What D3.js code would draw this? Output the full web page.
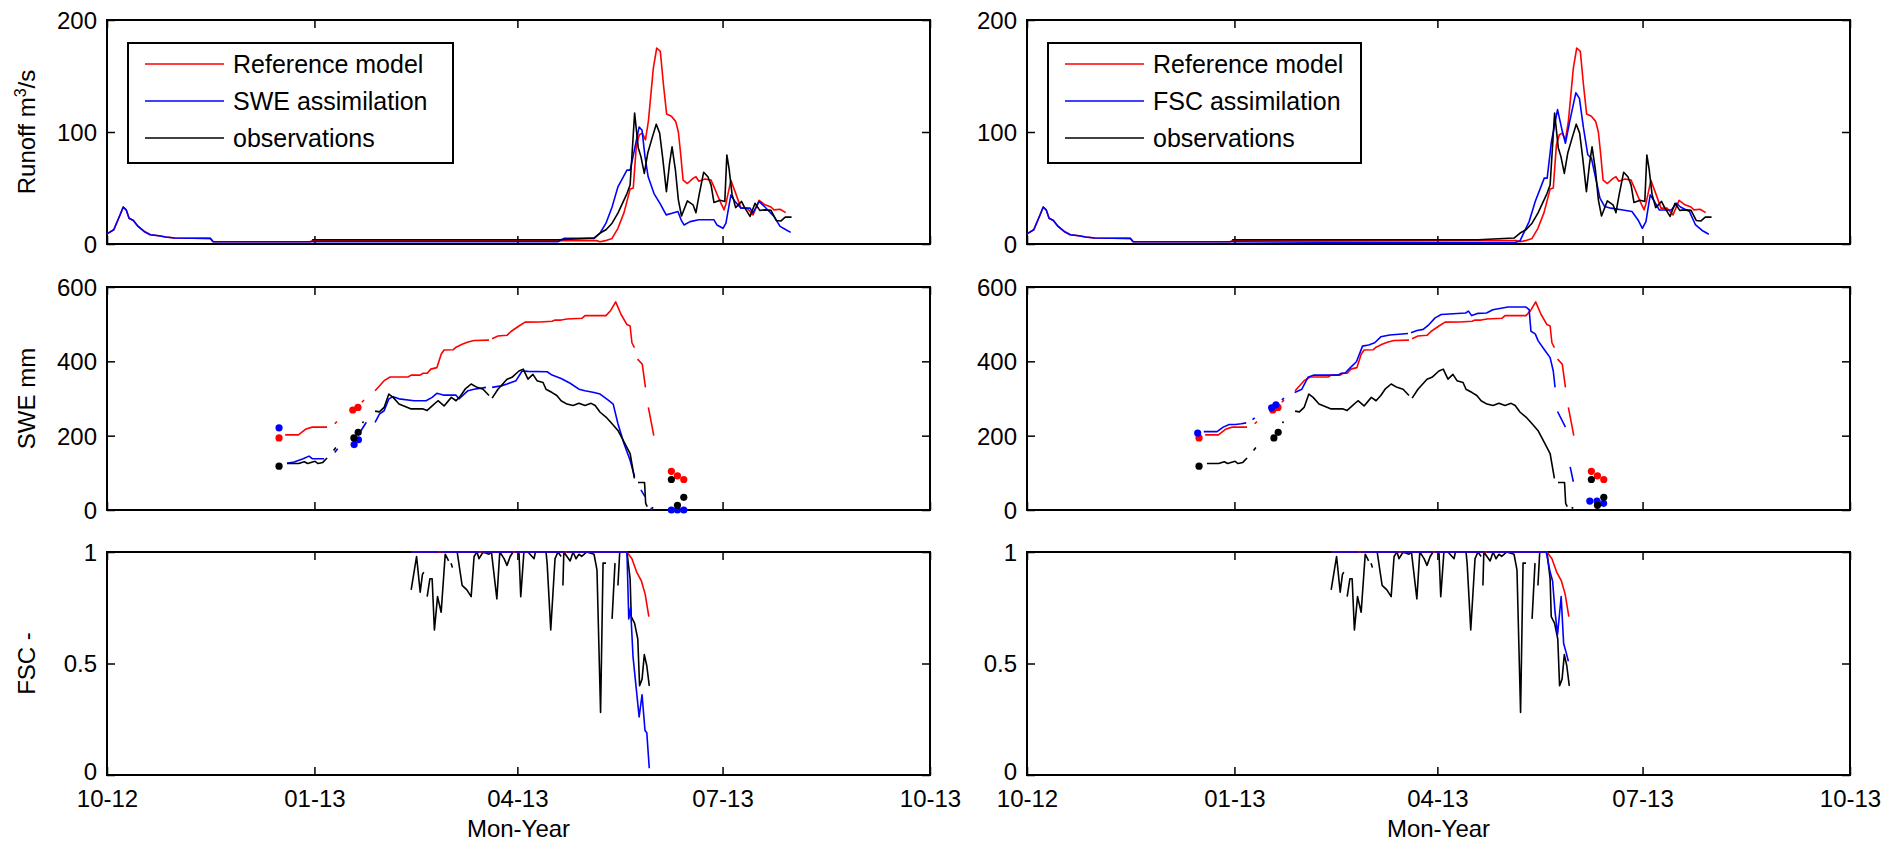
<!DOCTYPE html>
<html>
<head>
<meta charset="utf-8">
<script src="https://cdn.jsdelivr.net/npm/d3@7"></script>
<style>
  body { margin: 0; background: #fff; }
  svg { display: block; font-family: "Liberation Sans", Arial, sans-serif; }
</style>
</head>
<body>
<div id="chart-area"></div>
<script>
// x values are days since 2012-10-01, null = gap in the record
var monthTicks = ["2012-10-01", "2013-01-01", "2013-04-01", "2013-07-01", "2013-10-01"];
var runoffTicks = [0, 100, 200];
var sweTicks = [0, 200, 400, 600];
var fscTicks = [0, 0.5, 1];

var legendLeft = ["Reference model", "SWE assimilation", "observations"];
var legendRight = ["Reference model", "FSC assimilation", "observations"];

// ---- runoff (m3/s)
var runoffEarly = [[0, 9], [3, 12.7], [6, 27], [7.2, 33], [8.5, 30.5], [9.8, 23], [11.7, 21], [13.8, 15.7],
  [16.5, 11.2], [19.2, 8.3], [23, 7.4], [26, 6.2], [30, 5.3], [45.8, 5], [47.1, 2]];

var runoffRef = [[90, 2], [91, 3], [200, 3], [217, 3], [218.7, 2], [221, 3], [224, 5], [226.6, 14], [229.3, 28],
  [232, 49], [233.4, 50], [234.8, 88.7], [236.1, 97.6], [237.4, 99], [238.8, 93], [240.1, 109.5], [242.3, 157],
  [243.8, 175], [245.4, 172], [246.8, 142], [248.2, 116], [250.3, 114], [252.2, 109.5], [253.4, 100], [254.3, 82.7],
  [255.5, 57], [257.4, 54], [259.9, 58.6], [261.2, 60], [262.5, 56], [265.2, 58], [267.9, 57], [269.2, 51],
  [271.9, 38], [273.7, 30.5], [274.5, 36], [276.7, 57], [278.5, 47], [281.2, 32], [283.9, 32], [286.5, 26],
  [289.2, 39], [291.8, 35], [294.5, 33], [295.8, 30.5], [298.5, 31], [301, 28]];

var runoffSWE = [[90, 2], [200, 2], [202.7, 5], [216, 5], [218.7, 9.8], [221.3, 18.6], [224, 33], [226.6, 51],
  [230.6, 66], [232, 66], [233.3, 78], [236, 104.5], [237.3, 101.5], [238.6, 78], [240, 60], [242.6, 45],
  [245.3, 36], [248, 26], [250.6, 27.5], [253.2, 29], [254.6, 21.6], [255.9, 17], [258.6, 20], [262.5, 21.6],
  [269.2, 21.6], [270.5, 17], [273.2, 14], [274.5, 18.6], [276.7, 43.8], [278.5, 38], [281.2, 32], [285.2, 32],
  [286.5, 27.5], [289.2, 38], [291.8, 33], [295.8, 24.6], [298.5, 15.7], [301.1, 12.7], [303.2, 10.4]];

var runoffFSC = [[90, 2], [198.5, 1], [216, 1], [218.7, 3], [222.7, 20], [225.4, 38], [229.4, 58.8], [230.7, 58.8],
  [232.6, 91.6], [235.3, 120], [237.4, 100.6], [238.8, 90], [240.7, 109.5], [243.4, 135], [245, 130], [246.8, 103.6],
  [248.7, 79.7], [250.3, 76.7], [252.2, 58.8], [254.1, 41], [256.2, 33.4], [258.9, 32], [264.3, 30.4], [268.3, 29],
  [271, 21.5], [272.9, 14], [274.5, 20], [276.4, 43.9], [278.3, 37.9], [280.4, 30.4], [285.8, 30.4], [288, 36.4],
  [289.8, 33], [293.8, 29], [296.5, 17], [299.8, 11.6], [302.4, 8.7]];

var runoffObs = [[91, 3.8], [200, 3.8], [216, 5.3], [218.7, 9.8], [221.3, 12.7], [224, 18.6], [226.6, 27.5],
  [230.6, 45], [232, 52.7], [234, 117], [235.6, 86], [236.8, 78], [238.3, 63], [239.8, 81], [241.8, 95],
  [243.6, 107], [245.1, 99], [246.5, 76], [248.1, 46.8], [249.5, 72], [250.6, 86.7], [252.1, 66], [253.4, 39.4],
  [254.8, 25], [257.4, 38.5], [259.9, 35], [261.2, 28], [262.6, 43.8], [264.6, 64], [266.5, 60], [267.9, 52.7],
  [269.2, 37], [271.9, 39], [274, 38], [274.9, 79.5], [275.9, 67], [277.2, 44.5], [278.8, 32.5], [281.4, 38],
  [282.8, 32.5], [285.2, 24.6], [287.4, 36.4], [289.5, 30], [292, 30.5], [294.5, 30], [296.8, 21], [298.8, 20.5],
  [300.8, 24], [303.6, 24]];

// ---- snow water equivalent (mm)
var sweRef = [[79, 202], [84.9, 202], [88.3, 218], [91, 223], [97.6, 223], null, [101, 232], [102, 238], null,
  [113, 290], [114, 296], null, [118.9, 321], [122.9, 348], [125.6, 358], [133.5, 358], [134.9, 363], [138.9, 363],
  [140.2, 368], [142, 368], [143.6, 379], [146.3, 383], [148.2, 419], [149.5, 430.6], [153.5, 431], [154.8, 438],
  [157.5, 446], [160.1, 452], [162.8, 456], [169.4, 457], null, [170.8, 461], [173.4, 468], [177.4, 470],
  [179.3, 481], [182.7, 495], [185.4, 505.5], [192, 506], [197.4, 508], [198.7, 511], [201.4, 511], [204, 514],
  [210.7, 516], [212, 523], [221.3, 523], [223.4, 537], [225.6, 560], [228, 526], [230.6, 499], [232, 495],
  [232.8, 450], [233.9, 437], null, [235.3, 406], [237.4, 392], [238.8, 330], null, [240.1, 276], [242.5, 200]];
var sweRefDots = [[76.3, 194], [109, 269], [111.3, 276], [250.3, 104], [253, 92], [255.8, 82]];

var sweSWE = [[79.8, 126], [83, 129], [87, 138], [89.6, 145], [91, 138], [96.3, 138], null, [101, 155],
  [102.3, 165], null, [112.5, 212], [115, 236], null, [118.9, 236], [120.8, 258], [122.9, 267], [125, 299],
  [126.9, 305], [129.5, 299], [136.2, 294], [141.5, 294], [144.2, 303], [146.3, 314], [149.5, 309], [154.8, 309],
  [156.1, 299], [160.1, 321], [162.8, 325], [168.1, 330], null, [170.8, 330], [174.8, 334], [177.4, 339],
  [181.4, 348], [184.1, 374], [186.7, 373], [195.2, 372], [197.4, 363], [201.4, 354], [205.4, 341], [209.3, 325],
  [212, 321], [216, 316], [218.7, 312], [222.6, 294], [224.5, 285], [226.6, 232], [229.3, 178], [232, 134],
  [234, 89], null, [236.8, 54], [238.6, 36], null, [241, 4], [242, 0]];
var sweSWEDots = [[76.3, 221], [109.6, 176], [111.5, 189], [250.3, 0], [253, 0], [255.8, 0]];

var sweFSC = [[78.4, 211], [84.3, 211], [87, 223], [89.7, 230], [92.4, 230], [95, 232], [97.2, 234.5], null,
  [100, 243], [101, 248], null, [113, 296], [114, 301], null, [118.7, 316], [121.9, 325], [124.6, 357],
  [127.3, 363], [138, 363], [139.4, 368], [141, 368], [143.4, 383], [146.1, 399], [148.8, 441], [151.5, 444],
  [154.2, 450], [156.9, 466], [160.9, 471], [169, 475], null, [170.3, 477], [173, 483], [175.7, 486], [178.3, 499],
  [181, 517], [183.7, 526], [194.5, 530], [195.8, 535], [197.2, 523], [199.8, 529], [203.8, 530], [206.6, 539],
  [213.3, 546], [221.3, 546], [222.7, 539], [223.5, 481], [225.4, 474], [226.7, 455], [229.4, 432], [232, 410],
  [233.4, 374], [234.2, 330], null, [235.3, 265], [238.8, 223], null, [240.9, 116], [242.3, 76]];
var sweFSCDots = [[75.7, 207], [108.5, 275], [110.4, 283], [249.6, 24], [252.8, 24], [255.7, 18]];

var sweObs = [[79.8, 125], [85, 125], [87.5, 130], [89, 125], [92.3, 131], [93.6, 125], [95.7, 128], [97.6, 140],
  null, [100.5, 160], [101.5, 168], null, [113.3, 234], [113.8, 238], null, [118.9, 266], [120.8, 264],
  [122.9, 276], [125, 312], [126.9, 303], [129.5, 285], [134.9, 272], [140.2, 272], [142, 268], [144.2, 280],
  [146.8, 294], [149.5, 280], [152.7, 303], [154.8, 294], [156.9, 308], [158.8, 325], [161.5, 339], [164.1, 330],
  [166.8, 325], [169.4, 308], null, [170.8, 301], [173.4, 325], [177.4, 352], [179.6, 357], [182.7, 374],
  [184.6, 379], [186.7, 352], [188.9, 365], [190.7, 348], [193.4, 343], [194.7, 325], [197.4, 316], [199.5, 308],
  [201.4, 294], [204, 285], [206.7, 281], [209.3, 287], [212, 281], [214.7, 287], [216.5, 281], [218.7, 263],
  [221.3, 250], [224, 232], [226.6, 214], [229.3, 183], [232, 152], [233.9, 85], null, [235.5, 74], [238.4, 74],
  [238.9, 18], [239.6, 9], null, [241.5, 7], [242.3, 5]];
var sweObsDots = [[76.3, 118], [109.5, 194], [111.4, 209], [250.3, 82], [253, 12.5], [255.8, 34]];

// ---- fractional snow cover (-)
var fscRef = [[135, 1], [230.6, 1], [232.8, 0.97], [234.9, 0.91], [237, 0.87], [238.7, 0.81], [240.3, 0.71]];

var fscSWE = [[135, 1], [147, 1], null, [148, 1], [165, 1], null, [166, 1], [180, 1], null, [181, 1], [203, 1],
  null, [204, 1], [230.6, 1], [231.4, 0.70], [232.2, 0.75], [233.3, 0.53], [234.6, 0.40], [236, 0.26],
  [237.3, 0.36], [238.6, 0.20], [239.4, 0.19], [240.5, 0.03]];

var fscFSC = [[135, 1], [147, 1], null, [148, 1], [165, 1], null, [166, 1], [180, 1], null, [181, 1], [203, 1],
  null, [204, 1], [230.3, 1], [232, 0.91], [233.1, 0.87], [234.2, 0.73], [235.3, 0.63], [236.9, 0.80], [238, 0.59],
  [239.1, 0.55], [240.1, 0.51]];

var fscObs = [[134.9, 0.83], [137.3, 0.98], [138.9, 0.82], [139.9, 0.90], [140.5, 0.91], null, [142, 0.80],
  [143.2, 0.88], [144.2, 0.88], [145.2, 0.65], [146.6, 0.80], [148.2, 0.73], [150, 0.99], [151.5, 0.96], null,
  [152.6, 0.95], [153.2, 0.93], null, [155.3, 1], [157.5, 0.85], [159.6, 0.83], [161.5, 0.80], [162.8, 0.98],
  [164.1, 1], [165, 0.97], [166.8, 1], [169.4, 0.99], [170.5, 1], [172.9, 0.79], [174.2, 1], [176.1, 0.97],
  [177.4, 0.94], [178.8, 0.98], [180.1, 1], [182.7, 1], [183.5, 0.80], [184.9, 1], [186.7, 1], [189.4, 0.97],
  [190, 1], [194.7, 1], [195.2, 0.95], [196.8, 0.65], [198.7, 0.97], [200, 1], [201.4, 0.98], null, [202.2, 0.85],
  [202.6, 1], [204, 0.98], [205.4, 0.96], [206.7, 1], [208, 0.97], [209.3, 0.99], [210.5, 0.98], [212.8, 1],
  [216, 0.99], [217.3, 0.92], [218.9, 0.28], [220, 0.95], [221.3, 0.95], null, [224, 0.70], [225.3, 0.95], null,
  [226.6, 0.85], [227.4, 1], [230.6, 1], [232, 0.88], [232.5, 0.71], [234, 0.68], [235.4, 0.61], [236.2, 0.40],
  [237.3, 0.43], [238.3, 0.54], [239.4, 0.49], [240.5, 0.40]];

// ---------------------------------------------------------------
var W = 1888, H = 843;
var panelW = 823;
var panelX = [107, 1027];
var rows = [{ y: 20, h: 224 }, { y: 287, h: 223 }, { y: 552, h: 223 }];
var tickLen = 8;

var start = Date.UTC(2012, 9, 1);
function dayDate(d) { return new Date(start + d * 864e5); }
var parseDay = d3.utcParse("%Y-%m-%d");

var x = d3.scaleUtc().domain([parseDay("2012-10-01"), parseDay("2013-10-01")]).range([0, panelW]);

var svg = d3.select("#chart-area").append("svg").attr("width", W).attr("height", H);

var red = "#ff0000", blue = "#0000ff", black = "#000000";

var panels = [
  { col: 0, row: 0, max: 200, ticks: runoffTicks, series: [[runoffEarly.concat(runoffRef), red], [runoffEarly.concat(runoffSWE), blue], [runoffObs, black]], legend: legendLeft },
  { col: 1, row: 0, max: 200, ticks: runoffTicks, series: [[runoffEarly.concat(runoffRef), red], [runoffEarly.concat(runoffFSC), blue], [runoffObs, black]], legend: legendRight },
  { col: 0, row: 1, max: 600, ticks: sweTicks, series: [[sweRef, red], [sweSWE, blue], [sweObs, black]], dots: [[sweRefDots, red], [sweSWEDots, blue], [sweObsDots, black]] },
  { col: 1, row: 1, max: 600, ticks: sweTicks, series: [[sweRef, red], [sweFSC, blue], [sweObs, black]], dots: [[sweRefDots, red], [sweFSCDots, blue], [sweObsDots, black]] },
  { col: 0, row: 2, max: 1, ticks: fscTicks, series: [[fscObs, black], [fscRef, red], [fscSWE, blue]], xlab: true },
  { col: 1, row: 2, max: 1, ticks: fscTicks, series: [[fscObs, black], [fscRef, red], [fscFSC, blue]], xlab: true }
];

panels.forEach(function (p) {
  var r = rows[p.row];
  var h = r.h;
  var g = svg.append("g").attr("transform", "translate(" + panelX[p.col] + "," + r.y + ")");
  var y = d3.scaleLinear().domain([0, p.max]).range([h, 0]);

  // axes box
  g.append("rect").attr("width", panelW).attr("height", h)
    .attr("fill", "none").attr("stroke", "#000").attr("stroke-width", 2);

  var tv = monthTicks.map(parseDay);
  var bottom = g.append("g").attr("transform", "translate(0," + h + ")")
    .call(d3.axisBottom(x).tickValues(tv).tickSize(-tickLen).tickPadding(15)
      .tickFormat(p.xlab ? d3.utcFormat("%m-%y") : ""));
  var top = g.append("g").call(d3.axisTop(x).tickValues(tv).tickSize(-tickLen).tickFormat(""));
  var left = g.append("g").call(d3.axisLeft(y).tickValues(p.ticks).tickSize(-tickLen).tickPadding(10)
    .tickFormat(function (d) { return d; }));
  var right = g.append("g").attr("transform", "translate(" + panelW + ",0)")
    .call(d3.axisRight(y).tickValues(p.ticks).tickSize(-tickLen).tickFormat(""));

  [bottom, top, left, right].forEach(function (a) {
    a.select(".domain").remove();
    a.selectAll(".tick line").attr("stroke", "#000").attr("stroke-width", 1.5);
    a.selectAll(".tick text").attr("font-size", 24).attr("font-family", "Liberation Sans, Arial, sans-serif").attr("fill", "#000");
  });
  left.selectAll(".tick text").attr("dy", "0.35em");
  // keep the corner "0" clear of the month labels underneath
  if (p.xlab) {
    left.selectAll(".tick text").filter(function (d) { return d === 0; }).attr("dy", "0.18em");
  }
  bottom.selectAll(".tick text").attr("dy", "0.71em");

  var line = d3.line()
    .defined(function (d) { return d !== null; })
    .x(function (d) { return x(dayDate(d[0])); })
    .y(function (d) { return y(d[1]); });

  p.series.forEach(function (s) {
    g.append("path").datum(s[0]).attr("d", line)
      .attr("fill", "none").attr("stroke", s[1]).attr("stroke-width", 1.6)
      .attr("stroke-linejoin", "round");
  });

  if (p.dots) {
    p.dots.forEach(function (s) {
      g.selectAll(null).data(s[0]).enter().append("circle")
        .attr("cx", function (d) { return x(dayDate(d[0])); })
        .attr("cy", function (d) { return y(d[1]); })
        .attr("r", 3.6).attr("fill", s[1]);
    });
  }

  if (p.legend) {
    var lw = p.col === 0 ? 325 : 313;
    var lg = g.append("g").attr("transform", "translate(21,23)");
    lg.append("rect").attr("width", lw).attr("height", 120)
      .attr("fill", "#fff").attr("stroke", "#000").attr("stroke-width", 2);
    p.legend.forEach(function (name, i) {
      var row = lg.append("g").attr("transform", "translate(0," + (21 + i * 37) + ")");
      row.append("line").attr("x1", 17).attr("x2", 96).attr("y1", 0).attr("y2", 0)
        .attr("stroke", p.series[i][1]).attr("stroke-width", 1.6);
      row.append("text").attr("x", 105).attr("y", 0).attr("dy", "0.35em")
        .attr("font-size", 25).text(name);
    });
  }

  if (p.xlab) {
    g.append("text").attr("x", panelW / 2).attr("y", h + 54).attr("dy", "0.35em")
      .attr("text-anchor", "middle").attr("font-size", 24).text("Mon-Year");
  }
});

// y labels on the left column only
var yLabels = [["Runoff m", "3", "/s"], ["SWE mm"], ["FSC -"]];
yLabels.forEach(function (lab, i) {
  var r = rows[i];
  var t = svg.append("text")
    .attr("transform", "translate(27," + (r.y + r.h / 2) + ") rotate(-90)")
    .attr("text-anchor", "middle").attr("dy", "0.35em").attr("font-size", 24);
  t.append("tspan").text(lab[0]);
  if (lab.length > 1) {
    t.append("tspan").attr("font-size", 16).attr("dy", "-0.6em").text(lab[1]);
    t.append("tspan").attr("dy", "0.4em").text(lab[2]);
  }
});
</script>
</body>
</html>
